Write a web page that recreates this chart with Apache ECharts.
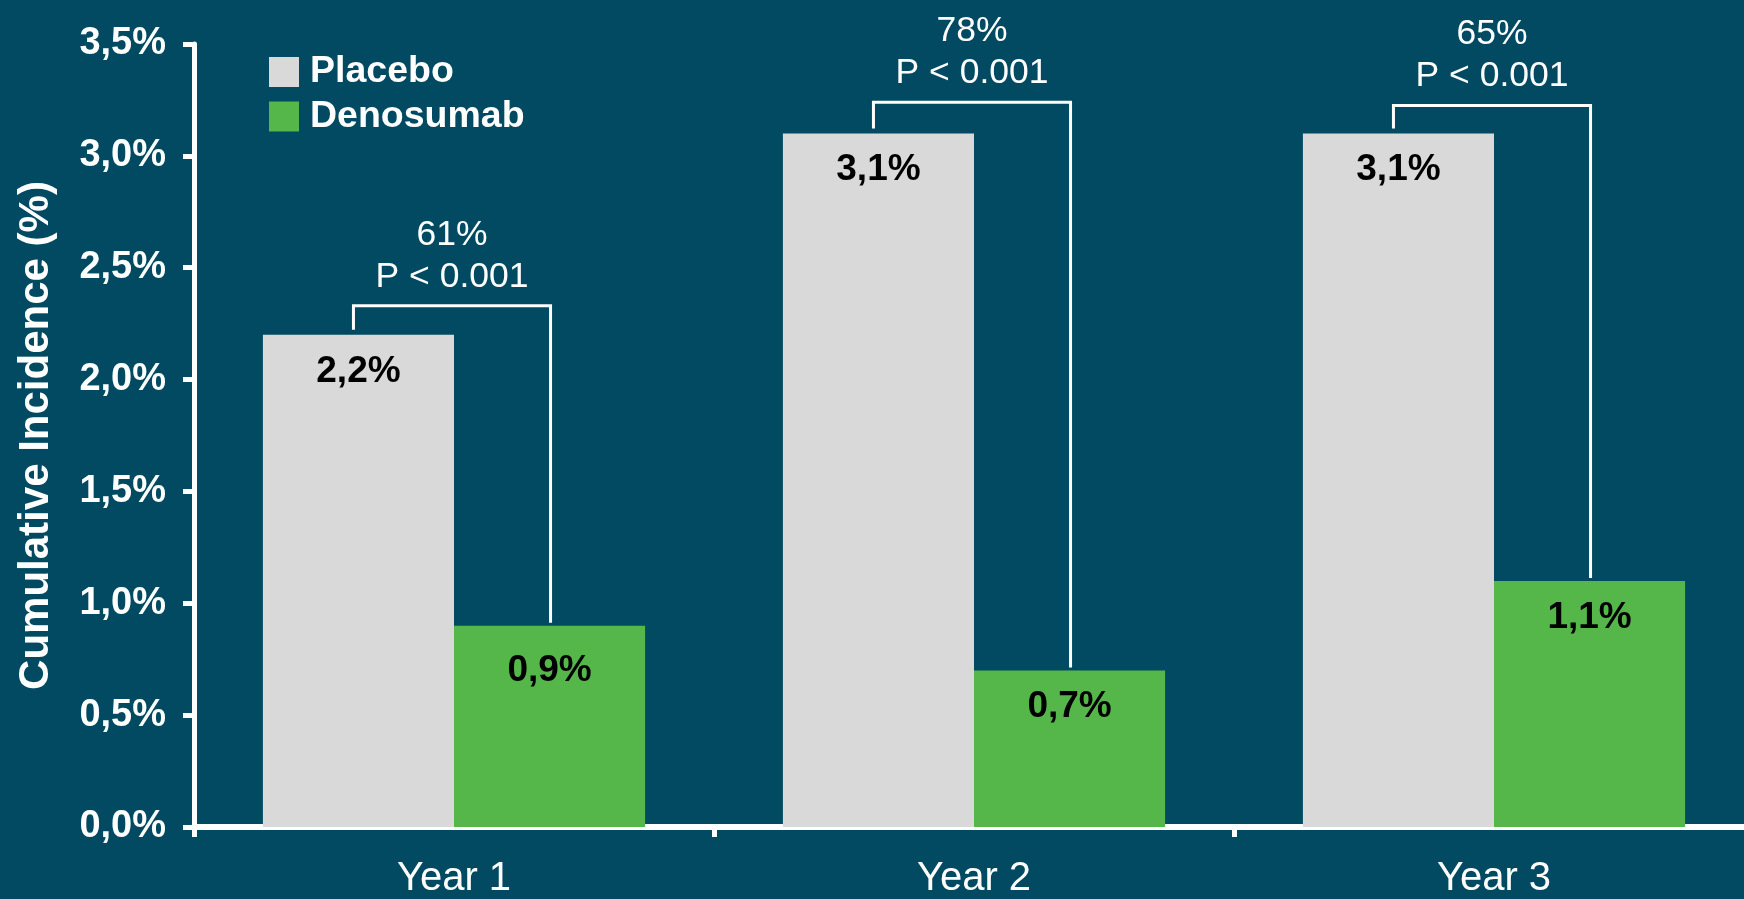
<!DOCTYPE html>
<html>
<head>
<meta charset="utf-8">
<title>Cumulative Incidence</title>
<script src="https://cdn.jsdelivr.net/npm/echarts@6/dist/echarts.min.js"></script>
<style>
  html, body { margin: 0; padding: 0; background: #014a62; overflow: hidden; }
  /* canvas runs a little past the right edge so the x axis bleeds off the page */
  #chart { width: 1760px; height: 899px; }
</style>
</head>
<body>
<div id="chart"></div>
<script>
// Cumulative incidence by study year
const categories = ['Year 1', 'Year 2', 'Year 3'];
const placebo = [2.2, 3.1, 3.1];
const denosumab = [0.9, 0.7, 1.1];
// Relative reduction brackets: bracket level (in % units), reduction text, p-value text
const bracketLevel = [2.33, 3.24, 3.225];
const reductionText = ['61%', '78%', '65%'];
const pValueText = ['P < 0.001', 'P < 0.001', 'P < 0.001'];
const yTicks = { min: 0, max: 3.5, interval: 0.5 };

const FONT = "'Liberation Sans', Arial, Helvetica, sans-serif";
const WHITE = '#ffffff';
const CAT_GAP = 0.265;

const fmtPct = v => v.toFixed(1).replace('.', ',') + '%';

const bracketData = categories.map((c, i) => [i, bracketLevel[i], placebo[i], denosumab[i]]);

function renderBracket(params, api) {
  const i = api.value(0);
  const top = api.value(1);
  const pv = api.value(2);
  const dv = api.value(3);
  const band = api.size([1, 0])[0];
  const bw = band * (1 - CAT_GAP) / 2;
  const c = api.coord([i, top]);
  const cx = c[0], yTop = c[1];
  const xl = cx - bw / 2 - 5;
  const xr = cx + bw / 2 + 1;
  const yP = api.coord([i, pv])[1] - 5;
  const yD = api.coord([i, dv])[1] - 3;
  const mid = (xl + xr) / 2;
  return {
    type: 'group',
    children: [
      {
        type: 'polyline',
        shape: { points: [[xl, yP], [xl, yTop], [xr, yTop], [xr, yD]] },
        style: { stroke: WHITE, lineWidth: 3, fill: null }
      },
      {
        type: 'text',
        style: {
          x: mid, y: yTop - 29, text: pValueText[i],
          fill: WHITE, font: '35.5px ' + FONT, align: 'center', verticalAlign: 'middle'
        }
      },
      {
        type: 'text',
        style: {
          x: mid, y: yTop - 71, text: reductionText[i],
          fill: WHITE, font: '35.5px ' + FONT, align: 'center', verticalAlign: 'middle'
        }
      }
    ]
  };
}

const valueLabel = {
  show: true, position: 'insideTop', distance: 18,
  color: '#000000', fontSize: 37, fontWeight: 'bold', fontFamily: FONT,
  formatter: p => fmtPct(p.value)
};

// the first green label sits a little lower inside its bar
const denosumabItems = denosumab.map((v, i) => (i === 0 ? { value: v, label: { distance: 27 } } : v));

const chart = echarts.init(document.getElementById('chart'));
chart.setOption({
  backgroundColor: '#014a62',
  animation: false,
  textStyle: { fontFamily: FONT },
  grid: { left: 194, right: 6, top: 44, bottom: 70, containLabel: false },
  legend: {
    data: ['Placebo', 'Denosumab'],
    orient: 'vertical',
    left: 269,
    top: 53,
    padding: 0,
    icon: 'rect',
    itemWidth: 30,
    itemHeight: 30,
    itemGap: 6.5,
    textStyle: {
      color: WHITE, fontSize: 37.5, fontWeight: 'bold', fontFamily: FONT,
      padding: [0, 0, 0, 6]
    }
  },
  xAxis: {
    type: 'category',
    data: categories,
    boundaryGap: true,
    axisLine: { lineStyle: { color: WHITE, width: 6 } },
    axisTick: { show: true, length: 10, lineStyle: { color: WHITE, width: 5 } },
    axisLabel: { color: WHITE, fontSize: 40, fontFamily: FONT, margin: 32 }
  },
  yAxis: {
    type: 'value',
    min: yTicks.min,
    max: yTicks.max,
    interval: yTicks.interval,
    name: 'Cumulative Incidence (%)',
    nameLocation: 'middle',
    nameRotate: 90,
    nameGap: 137,
    nameTextStyle: { color: WHITE, fontSize: 42, fontWeight: 'bold', fontFamily: FONT },
    splitLine: { show: false },
    axisLine: { show: true, lineStyle: { color: WHITE, width: 5 } },
    axisTick: { show: true, length: 11, lineStyle: { color: WHITE, width: 5 } },
    axisLabel: {
      color: WHITE, fontSize: 38, fontWeight: 'bold', fontFamily: FONT, margin: 28,
      formatter: fmtPct
    }
  },
  series: [
    {
      name: 'Placebo',
      type: 'bar',
      data: placebo,
      barGap: '0%',
      barCategoryGap: (CAT_GAP * 100) + '%',
      itemStyle: { color: '#d9d9d9' },
      label: valueLabel
    },
    {
      name: 'Denosumab',
      type: 'bar',
      data: denosumabItems,
      itemStyle: { color: '#55b74a' },
      label: valueLabel
    },
    {
      name: 'Reduction',
      type: 'custom',
      data: bracketData,
      encode: { x: 0, y: 1 },
      clip: false,
      z: 5,
      silent: true,
      renderItem: renderBracket
    }
  ]
});
</script>
</body>
</html>
